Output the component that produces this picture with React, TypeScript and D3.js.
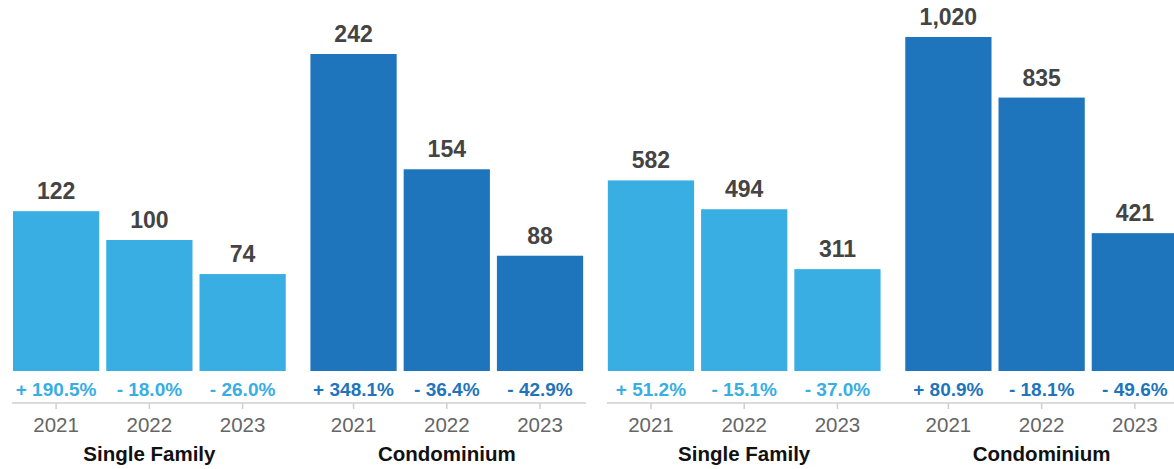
import * as d3 from 'd3';
import React from 'react';

const width = 1174;
const height = 469;

const years = ['2021', '2022', '2023'];
const groups = ['Single Family', 'Condominium'];
const panels = ['left', 'right'];

const leftSingleFamily = [122, 100, 74];
const leftCondominium = [242, 154, 88];
const rightSingleFamily = [582, 494, 311];
const rightCondominium = [1020, 835, 421];

const leftSingleFamilyPct = ['+ 190.5%', '- 18.0%', '- 26.0%'];
const leftCondominiumPct = ['+ 348.1%', '- 36.4%', '- 42.9%'];
const rightSingleFamilyPct = ['+ 51.2%', '- 15.1%', '- 37.0%'];
const rightCondominiumPct = ['+ 80.9%', '- 18.1%', '- 49.6%'];

const colors = { 'Single Family': '#38aee3', Condominium: '#1f75bb' };
const font = '"Liberation Sans", Arial, Helvetica, sans-serif';

const baseY = 371;

const panelData = [
	{
		key: 'left',
		top: 54,
		max: 242,
		series: [
			{ group: 'Single Family', values: leftSingleFamily, pct: leftSingleFamilyPct },
			{ group: 'Condominium', values: leftCondominium, pct: leftCondominiumPct },
		],
	},
	{
		key: 'right',
		top: 37,
		max: 1020,
		series: [
			{ group: 'Single Family', values: rightSingleFamily, pct: rightSingleFamilyPct },
			{ group: 'Condominium', values: rightCondominium, pct: rightCondominiumPct },
		],
	},
];

const App = () => {
	const slots = panels.flatMap(p => groups.map(g => `${p}-${g}`));
	const xGroup = d3.scaleBand<string>().domain(slots).range([13, 1178]).paddingInner(0.083);
	const xYear = d3
		.scaleBand<string>()
		.domain(years)
		.range([0, xGroup.bandwidth()])
		.paddingInner(0.075);
	const fmt = d3.format(',');

	return (
		<svg
			width={width}
			height={height}
			style={{ position: 'absolute', left: 0, top: 0, background: '#fff' }}
		>
			{panelData.map(panel => {
				const y = d3.scaleLinear().domain([0, panel.max]).range([baseY, panel.top]);
				const first = xGroup(`${panel.key}-${groups[0]}`) ?? 0;
				const last = (xGroup(`${panel.key}-${groups[1]}`) ?? 0) + xGroup.bandwidth();
				return (
					<g key={panel.key}>
						<line
							x1={first - 1}
							x2={Math.min(last + 3, width)}
							y1={403}
							y2={403}
							stroke="#cfcfcf"
							strokeWidth={1.5}
						/>
						{panel.series.map(s => {
							const gx = xGroup(`${panel.key}-${s.group}`) ?? 0;
							const color = colors[s.group as keyof typeof colors];
							return (
								<g key={s.group} transform={`translate(${gx},0)`}>
									{s.values.map((v, i) => {
										const bx = xYear(years[i]) ?? 0;
										const cx = bx + xYear.bandwidth() / 2;
										return (
											<g key={years[i]}>
												<rect
													x={bx}
													y={y(v)}
													width={xYear.bandwidth()}
													height={baseY - y(v)}
													fill={color}
												/>
												<text
													x={cx}
													y={y(v) - 12}
													textAnchor="middle"
													fontFamily={font}
													fontWeight="bold"
													fontSize={23}
													fill="#444"
												>
													{fmt(v)}
												</text>
												<text
													x={cx}
													y={396}
													textAnchor="middle"
													fontFamily={font}
													fontWeight="bold"
													fontSize={19}
													fill={color}
												>
													{s.pct[i]}
												</text>
												<line x1={cx} x2={cx} y1={403} y2={409} stroke="#cfcfcf" strokeWidth={1.5} />
												<text
													x={cx}
													y={432}
													textAnchor="middle"
													fontFamily={font}
													fontSize={20.5}
													fill="#666"
												>
													{years[i]}
												</text>
											</g>
										);
									})}
									<text
										x={xGroup.bandwidth() / 2}
										y={461}
										textAnchor="middle"
										fontFamily={font}
										fontWeight="bold"
										fontSize={20.5}
										fill="#111"
									>
										{s.group}
									</text>
								</g>
							);
						})}
					</g>
				);
			})}
		</svg>
	);
};

export default App;
